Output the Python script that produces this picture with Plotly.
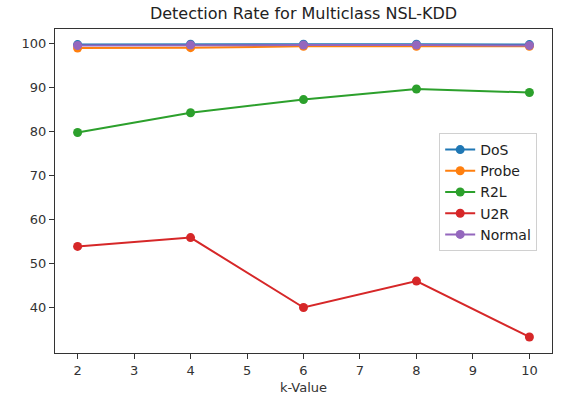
import plotly.graph_objects as go

k_values = [2, 4, 6, 8, 10]
dos = [99.8, 99.9, 99.9, 99.9, 99.8]
probe = [99.0, 99.1, 99.4, 99.4, 99.4]
r2l = [79.8, 84.3, 87.3, 89.7, 88.9]
u2r = [53.9, 55.9, 40.0, 46.0, 33.3]
normal = [99.6, 99.7, 99.7, 99.7, 99.6]

series_names = ["DoS", "Probe", "R2L", "U2R", "Normal"]
series_values = [dos, probe, r2l, u2r, normal]
colors = ["#1f77b4", "#ff7f0e", "#2ca02c", "#d62728", "#9467bd"]

fig = go.Figure()
for name, vals, c in zip(series_names, series_values, colors):
    fig.add_trace(go.Scatter(
        x=k_values, y=vals, name=name, mode="lines+markers",
        line=dict(color=c, width=2),
        marker=dict(color=c, size=9),
    ))

axis_common = dict(
    showline=True, linecolor="#333333", linewidth=1, mirror=True,
    ticks="outside", ticklen=5, tickcolor="#333333", showgrid=False,
    zeroline=False, tickfont=dict(size=13, color="#333333"),
)

fig.update_layout(
    width=562, height=404,
    paper_bgcolor="white", plot_bgcolor="white",
    margin=dict(l=55, r=10, t=29, b=51),
    font=dict(family="DejaVu Sans", color="#333333"),
    title=dict(text="Detection Rate for Multiclass NSL-KDD", xref="paper", x=0.5, xanchor="center",
               yref="container", y=0.967, yanchor="middle", font=dict(size=16, color="#222222")),
    xaxis=dict(range=[1.6, 10.4], tickvals=list(range(2, 11)),
               title=dict(text="k-Value", font=dict(size=13), standoff=6), **axis_common),
    yaxis=dict(range=[29.65, 103.35], tickvals=[40, 50, 60, 70, 80, 90, 100], **axis_common),
    legend=dict(x=0.773, y=0.679, xanchor="left", yanchor="top",
                bordercolor="#d0d0d0", borderwidth=1, bgcolor="rgba(255,255,255,0.8)",
                font=dict(size=14, color="#222222"), itemwidth=30, tracegroupgap=0),
    showlegend=True,
)

fig.write_html("out.html", config={"displayModeBar": False},
               post_script="document.body.style.margin='0';")
